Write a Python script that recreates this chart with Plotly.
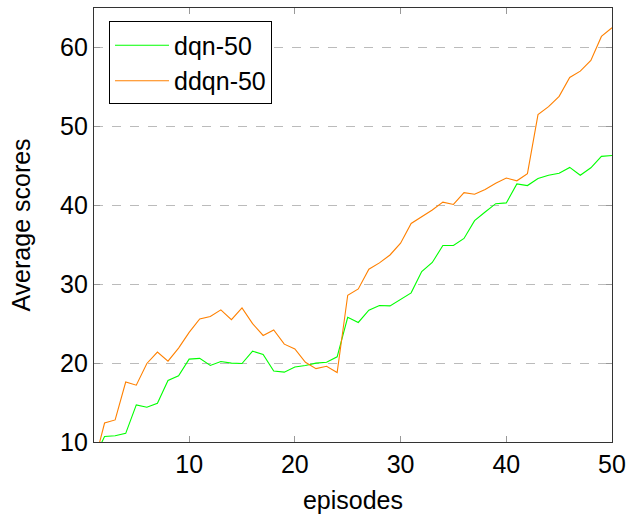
import plotly.graph_objects as go

episodes = list(range(1, 51))

dqn_50 = [7.9, 10.7, 10.8, 11.1, 14.7, 14.4, 14.9, 17.8, 18.4, 20.5,
          20.6, 19.7, 20.2, 20.0, 19.95, 21.5, 21.1, 19.0, 18.85, 19.5,
          19.7, 20.0, 20.1, 20.8, 25.8, 25.15, 26.7, 27.3, 27.25, 28.1,
          28.9, 31.6, 32.75, 34.9, 34.9, 35.8, 38.05, 39.15, 40.2, 40.3,
          42.7, 42.5, 43.4, 43.8, 44.05, 44.8, 43.8, 44.75, 46.2, 46.3]

ddqn_50 = [7.2, 12.4, 12.8, 17.6, 17.2, 19.95, 21.4, 20.25, 21.9, 23.9,
           25.6, 25.9, 26.75, 25.5, 27.0, 25.0, 23.5, 24.2, 22.4, 21.8,
           20.1, 19.3, 19.6, 18.8, 28.6, 29.4, 31.9, 32.7, 33.7, 35.2,
           37.7, 38.55, 39.4, 40.4, 40.1, 41.6, 41.4, 42.0, 42.8, 43.45,
           43.1, 44.0, 51.5, 52.5, 53.8, 56.2, 57.0, 58.35, 61.4, 62.5]

x_ticks = [10, 20, 30, 40, 50]
y_ticks = [10, 20, 30, 40, 50, 60]

FONT = "Liberation Sans"
SIZE = 25

fig = go.Figure()
fig.add_trace(go.Scatter(x=episodes, y=dqn_50, mode="lines", name="dqn-50",
                         line=dict(color="#00ff00", width=1.1)))
fig.add_trace(go.Scatter(x=episodes, y=ddqn_50, mode="lines", name="ddqn-50",
                         line=dict(color="#ff8000", width=1.1)))

fig.update_layout(
    width=633, height=517,
    margin=dict(l=94, r=17, t=7, b=74),
    paper_bgcolor="white", plot_bgcolor="white",
    font=dict(family=FONT, color="black", size=SIZE),
    showlegend=True,
    legend=dict(x=0.029, y=0.969, xanchor="left", yanchor="top",
                bgcolor="white", bordercolor="black", borderwidth=1,
                font=dict(size=SIZE, family=FONT), tracegroupgap=0,
                itemwidth=54),
)
fig.update_xaxes(
    range=[1, 50], tickvals=x_ticks, ticktext=[str(v) for v in x_ticks],
    showgrid=False, zeroline=False,
    showline=True, linecolor="#333333", linewidth=1.2, mirror="ticks",
    ticks="inside", ticklen=6, tickcolor="#999999",
    tickfont=dict(size=SIZE, family=FONT),
    title=dict(text="episodes", font=dict(size=SIZE, family=FONT), standoff=14),
)
fig.update_yaxes(
    range=[10, 65], tickvals=y_ticks, ticktext=[str(v) for v in y_ticks],
    showgrid=True, gridcolor="#bbbbbb", griddash="dash", gridwidth=1,
    zeroline=False,
    showline=True, linecolor="#333333", linewidth=1.2, mirror="ticks",
    ticks="inside", ticklen=6, tickcolor="#999999",
    tickfont=dict(size=SIZE, family=FONT),
    title=dict(text="Average scores", font=dict(size=SIZE, family=FONT), standoff=22),
)

fig.write_html("out.html")
